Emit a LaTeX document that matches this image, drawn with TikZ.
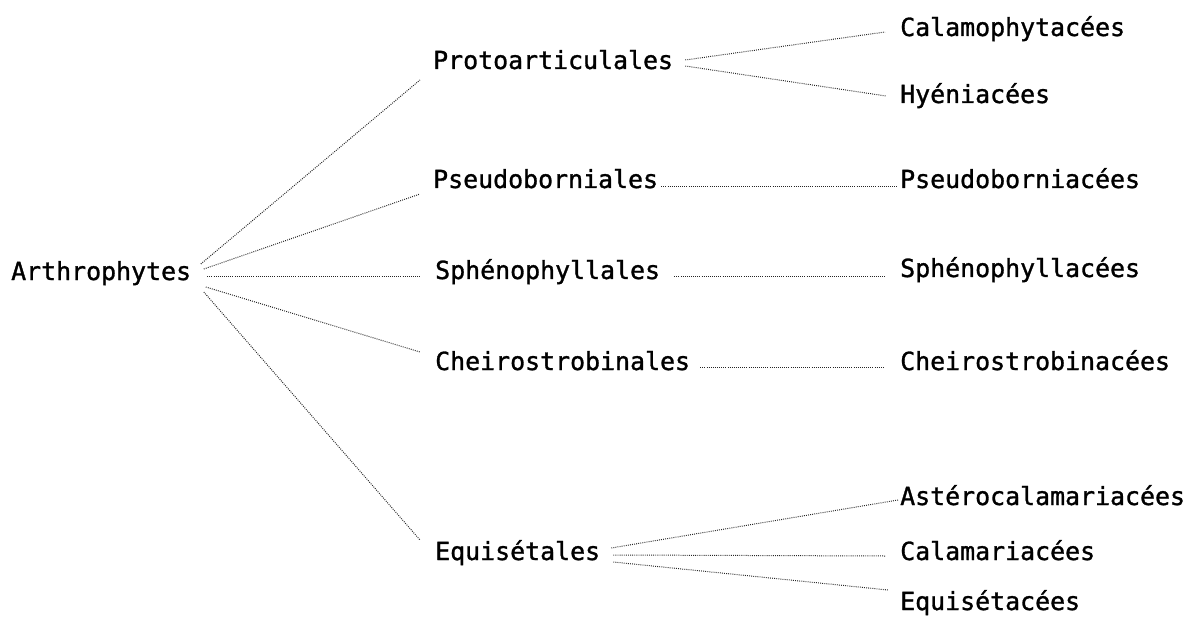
\documentclass[tikz,border=0pt]{standalone}
\usepackage{fontspec}
\setmonofont[FakeBold=1.2,BoldFont={DejaVu Sans Mono}]{DejaVu Sans Mono}
\begin{document}
\begin{tikzpicture}[x=1pt,y=-1pt,
  lbl/.style={anchor=base west,inner sep=0pt,font=\ttfamily\bfseries\fontsize{24.9}{26}\selectfont},
  link/.style={draw=black!85,line width=1pt,dash pattern=on 0.9pt off 1.2pt}]
\useasboundingbox (0,0) rectangle (1190,617);
% level 0
\node[lbl] (arth) at (11,280) {Arthrophytes};
% level 1
\node[lbl] (proto) at (433,69) {Protoarticulales};
\node[lbl] (pseudo) at (433,188) {Pseudoborniales};
\node[lbl] (spheno) at (435,279) {Sphénophyllales};
\node[lbl] (cheiro) at (435,370) {Cheirostrobinales};
\node[lbl] (equis) at (435,560) {Equisétales};
% level 2
\node[lbl] (calamo) at (900,36) {Calamophytacées};
\node[lbl] (hyen) at (900,103) {Hyéniacées};
\node[lbl] (pseudoac) at (900,188) {Pseudoborniacées};
\node[lbl] (sphenoac) at (900,277) {Sphénophyllacées};
\node[lbl] (cheiroac) at (900,370) {Cheirostrobinacées};
\node[lbl] (astero) at (900,505) {Astérocalamariacées};
\node[lbl] (calama) at (900,560) {Calamariacées};
\node[lbl] (equisac) at (900,610) {Equisétacées};
% fan from Arthrophytes
\draw[link] ([shift={(9.5,-16)}]arth.base east) -- ([shift={(-13,11)}]proto.base west);
\draw[link] ([shift={(12.5,-11)}]arth.base east) -- ([shift={(-13,6)}]pseudo.base west);
\draw[link] ([shift={(16,-3)}]arth.base east) -- ([shift={(-15,-2)}]spheno.base west);
\draw[link] ([shift={(14.5,7)}]arth.base east) -- ([shift={(-15,-18)}]cheiro.base west);
\draw[link] ([shift={(12.5,12)}]arth.base east) -- ([shift={(-15,-20)}]equis.base west);
% second level
\draw[link] ([shift={(12,-9)}]proto.base east) -- ([shift={(-15,-4)}]calamo.base west);
\draw[link] ([shift={(12,-3)}]proto.base east) -- ([shift={(-14,-7)}]hyen.base west);
\draw[link] ([shift={(3,-1)}]pseudo.base east) -- ([shift={(-3,-1)}]pseudoac.base west);
\draw[link] ([shift={(14,-2)}]spheno.base east) -- ([shift={(-15,0)}]sphenoac.base west);
\draw[link] ([shift={(10,-3)}]cheiro.base east) -- ([shift={(-15,-3)}]cheiroac.base west);
\draw[link] ([shift={(11,-12)}]equis.base east) -- ([shift={(-2,-5)}]astero.base west);
\draw[link] ([shift={(13,-5)}]equis.base east) -- ([shift={(-15,-4)}]calama.base west);
\draw[link] ([shift={(13,2)}]equis.base east) -- ([shift={(-12,-20)}]equisac.base west);
\end{tikzpicture}
\end{document}
